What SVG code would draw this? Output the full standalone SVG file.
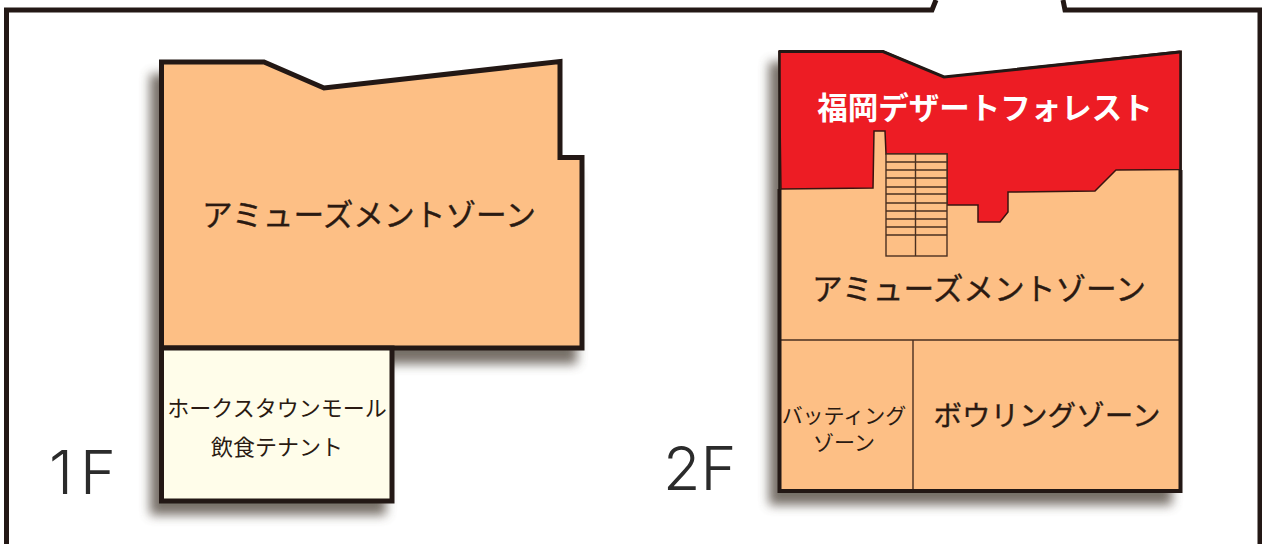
<svg xmlns="http://www.w3.org/2000/svg" width="1262" height="544" viewBox="0 0 1262 544">
<defs>
<filter id="sh" x="-10%" y="-10%" width="125%" height="125%"><feGaussianBlur stdDeviation="5.500"/></filter>
</defs>
<style>
text{font-family:"Noto Sans CJK JP","Noto Sans",sans-serif;fill:#2a1a12;text-anchor:middle}
.big{font-size:30.700px;stroke:#2a1a12;stroke-width:.35px}
.lab{font-family:Inter,"Liberation Sans",sans-serif;font-weight:300;font-size:61px;fill:#2b2b2b;text-anchor:start}
.wall{stroke:#231815;stroke-width:5;stroke-linejoin:miter}
.thin{stroke:#4a3020;stroke-width:1.4;fill:none}
.sh{fill:#5f574e;opacity:.85;filter:url(#sh)}
</style>
<rect width="1262" height="544" fill="#fff"/>
<path id="frame" d="M6.500 544V10H932L936 0M1063 0L1065 10H1260V544" fill="none" stroke="#231815" stroke-width="5"/>
<g id="floor-1f">
<path class="sh" d="M150 74H264L323 100L552 74V170H577V364H386V515H150Z"/>
<path id="amuse-1f" class="wall" fill="#fdbf85" d="M161.500 62H264L324 88L560 61.500V157.500H582V348H161.500Z"/>
<g id="tenant"><rect class="wall" x="161.500" y="348" width="230.500" height="153" fill="#fffdea"/>
<text x="277" y="416" font-size="22">ホークスタウンモール</text>
<text x="277" y="455" font-size="22">飲食テナント</text></g>
<text class="big" x="369" y="226">アミューズメントゾーン</text>
<text class="lab" x="49" y="494" letter-spacing="7">1F</text>
</g>
<g id="floor-2f">
<path class="sh" d="M769 62H880L944 88L1172 62V505H769Z"/>
<path id="amuse-2f" fill="#fdbf85" d="M780 52H883L944 77L1180 52V491H780Z"/>
<path id="forest" fill="#ed1c24" stroke="#3a1410" stroke-width="1.500" d="M779 51H883L944 77L1181 51V169.500L1116 170L1095 191L1008 192V212L1000 222H978V205H947V154H886L885 131H874L873 188L781 189Z"/>
<path d="M779 51.500H883L944 77L1180 52" fill="none" stroke="#231815" stroke-width="3"/>
<g id="stairs" class="thin"><rect x="886" y="154" width="61" height="102" fill="#fdbf85"/><path d="M915.500 154V256M886 162H947M886 170H947M886 178H947M886 187H947M886 194H947M886 203H947M886 211H947M886 219H947M886 227H947M886 235H947"/></g>
<path class="thin" d="M780 340H1180M913 340V491"/>
<path d="M779.500 189V491H1180.500V170" fill="none" stroke="#231815" stroke-width="4"/>
<path d="M779.500 51V189M1180.500 51V170" fill="none" stroke="#231815" stroke-width="2.500"/>
<text x="985" y="119" font-size="30.500" font-weight="700" style="fill:#fff">福岡デザートフォレスト</text>
<text class="big" x="979" y="300">アミューズメントゾーン</text>
<text font-size="21"><tspan x="844" y="423">バッティング</tspan><tspan x="844" y="450">ゾーン</tspan></text>
<text class="big" x="1047" y="426" style="font-size:28.500px">ボウリングゾーン</text>
<text class="lab" x="663" y="490">2F</text>
</g>
</svg>
